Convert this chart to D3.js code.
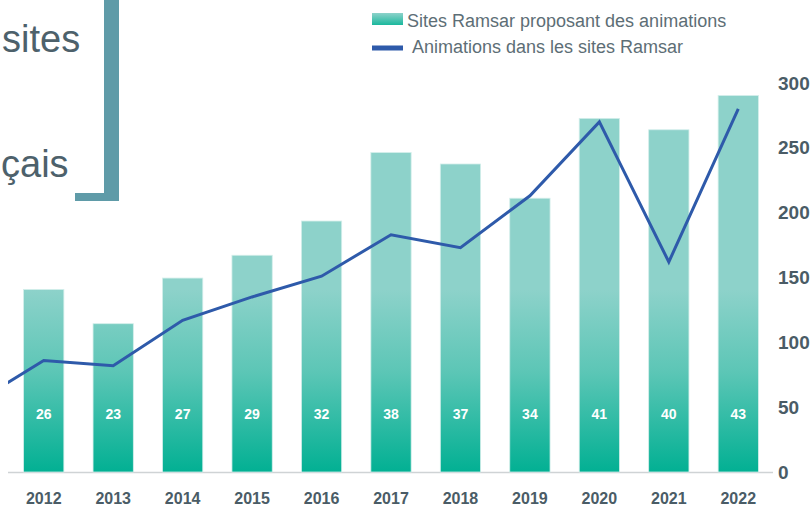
<!DOCTYPE html>
<html>
<head>
<meta charset="utf-8">
<script src="https://cdn.jsdelivr.net/npm/d3@7"></script>
<style>
  body { margin: 0; background: #fff; }
  svg { display: block; font-family: "Liberation Sans", Arial, sans-serif; }
</style>
</head>
<body>
<svg id="chart" width="812" height="506"></svg>
<script>
// data
const years = ["2012", "2013", "2014", "2015", "2016", "2017", "2018", "2019", "2020", "2021", "2022"]
const sites = [26, 23, 27, 29, 32, 38, 37, 34, 41, 40, 43]
// line starts one year before the first bar (cut by the left edge)
const lineYears = [2011, 2012, 2013, 2014, 2015, 2016, 2017, 2018, 2019, 2020, 2021, 2022]
const animations = [53, 86, 82, 117, 135, 151, 183, 173, 213, 270, 162, 280]
const rightTicks = [0, 50, 100, 150, 200, 250, 300]
const legendLabels = ["Sites Ramsar proposant des animations", "Animations dans les sites Ramsar"]

const svg = d3.select("#chart")

let plotLeft = 8
let plotRight = 773
let base = 472
let plotTop = 83

let x = d3.scaleBand()
    .domain(years)
    .range([plotLeft + 1, plotRight])
    .paddingInner(0.42)
    .paddingOuter(0.21)

// hidden bar scale does not start at 0
let yBar = d3.scaleLinear().domain([10, 44.1]).range([base, plotTop])
let yRight = d3.scaleLinear().domain([0, 300]).range([base, plotTop])

let firstCenter = x(years[0]) + x.bandwidth() / 2
let xYear = d3.scaleLinear()
    .domain([2012, 2013])
    .range([firstCenter, firstCenter + x.step()])

// gradient for bars, fixed in page space
let defs = svg.append("defs")
let grad = defs.append("linearGradient")
    .attr("id", "barGrad")
    .attr("gradientUnits", "userSpaceOnUse")
    .attr("x1", 0).attr("x2", 0)
    .attr("y1", 290).attr("y2", base)
grad.append("stop").attr("offset", "0%").attr("stop-color", "#8dd2ca")
grad.append("stop").attr("offset", "45%").attr("stop-color", "#5cc6b6")
grad.append("stop").attr("offset", "100%").attr("stop-color", "#02b093")

let legGrad = defs.append("linearGradient")
    .attr("id", "legGrad")
    .attr("x1", 0).attr("x2", 0).attr("y1", 0).attr("y2", 1)
legGrad.append("stop").attr("offset", "0%").attr("stop-color", "#8dd2ca")
legGrad.append("stop").attr("offset", "100%").attr("stop-color", "#1ab89d")

defs.append("clipPath").attr("id", "plotClip")
    .append("rect")
    .attr("x", plotLeft).attr("y", 0)
    .attr("width", 812 - plotLeft).attr("height", 506)

// title fragments + bracket (cut off on the left)
svg.append("rect")
    .attr("x", 104).attr("y", 0)
    .attr("width", 15).attr("height", 201)
    .attr("fill", "#5f9ba8")
svg.append("rect")
    .attr("x", 75).attr("y", 193)
    .attr("width", 44).attr("height", 8)
    .attr("fill", "#5f9ba8")
svg.append("text")
    .attr("x", 2).attr("y", 52)
    .attr("font-size", 38)
    .attr("fill", "#4d616b")
    .text("sites")
svg.append("text")
    .attr("x", 1).attr("y", 177)
    .attr("font-size", 38)
    .attr("fill", "#4d616b")
    .text("çais")

// baseline
svg.append("line")
    .attr("x1", plotLeft).attr("x2", plotRight)
    .attr("y1", base + 0.5).attr("y2", base + 0.5)
    .attr("stroke", "#cfd3d5")
    .attr("stroke-width", 1.5)

// bars
svg.append("g")
    .selectAll("rect")
    .data(sites)
    .join("rect")
    .attr("x", (d, i) => x(years[i]))
    .attr("y", d => yBar(d))
    .attr("width", x.bandwidth())
    .attr("height", d => base - yBar(d))
    .attr("fill", "url(#barGrad)")
    .attr("stroke", "#d3eeea")
    .attr("stroke-width", 0.8)

// bar labels
svg.append("g")
    .selectAll("text")
    .data(sites)
    .join("text")
    .attr("x", (d, i) => x(years[i]) + x.bandwidth() / 2)
    .attr("y", yRight(45))
    .attr("dy", "0.35em")
    .attr("text-anchor", "middle")
    .attr("font-size", 14)
    .attr("font-weight", "bold")
    .attr("fill", "#ffffff")
    .text(d => d)

// line
let line = d3.line()
    .x((d, i) => xYear(lineYears[i]))
    .y(d => yRight(d))

svg.append("path")
    .datum(animations)
    .attr("clip-path", "url(#plotClip)")
    .attr("d", line)
    .attr("fill", "none")
    .attr("stroke", "#2e5aaa")
    .attr("stroke-width", 3)
    .attr("stroke-linejoin", "miter")

// right axis
let axis = svg.append("g")
    .attr("transform", `translate(778,0)`)
    .call(d3.axisRight(yRight).tickValues(rightTicks).tickSize(0).tickPadding(0))
axis.select(".domain").remove()
axis.selectAll("text")
    .attr("font-family", "'Liberation Sans', Arial, sans-serif")
    .attr("font-size", 19)
    .attr("font-weight", "bold")
    .attr("fill", "#4a5c66")

// year labels
let xAxis = svg.append("g")
    .attr("transform", `translate(0,${base})`)
    .call(d3.axisBottom(x).tickSize(0).tickPadding(0))
xAxis.select(".domain").remove()
xAxis.selectAll("text")
    .attr("y", 32)
    .attr("dy", 0)
    .attr("font-family", "'Liberation Sans', Arial, sans-serif")
    .attr("font-size", 16)
    .attr("font-weight", "bold")
    .attr("fill", "#4a5c66")

// legend
let legend = svg.append("g")
legend.append("rect")
    .attr("x", 372).attr("y", 13)
    .attr("width", 31).attr("height", 12)
    .attr("fill", "url(#legGrad)")
legend.append("text")
    .attr("x", 407).attr("y", 27)
    .attr("font-size", 18)
    .attr("fill", "#5d6e76")
    .text(legendLabels[0])
legend.append("rect")
    .attr("x", 372).attr("y", 45.5)
    .attr("width", 31).attr("height", 5)
    .attr("fill", "#2e5aaa")
legend.append("text")
    .attr("x", 412).attr("y", 53)
    .attr("font-size", 18)
    .attr("fill", "#5d6e76")
    .text(legendLabels[1])
</script>
</body>
</html>
